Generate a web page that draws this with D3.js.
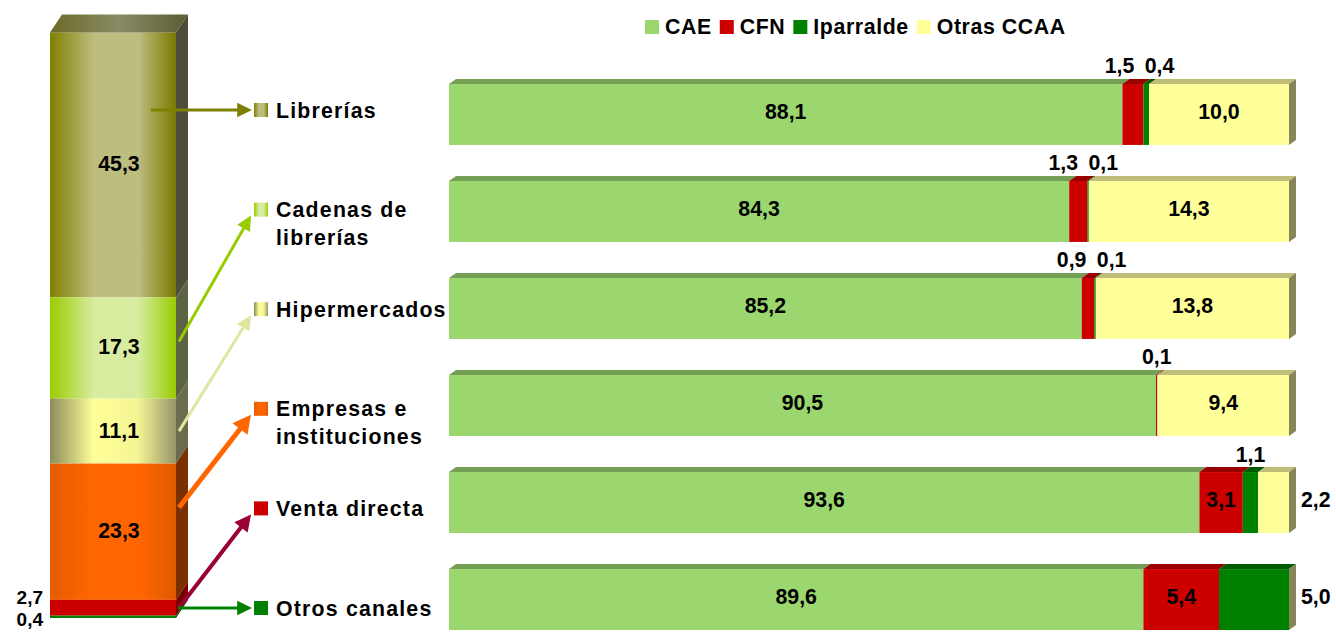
<!DOCTYPE html>
<html>
<head>
<meta charset="utf-8">
<script src="https://cdn.jsdelivr.net/npm/d3@7"></script>
<style>
body { margin: 0; background: #fff; }
text { font-family: Arial, "Liberation Sans", sans-serif; font-weight: bold; font-size: 21.3px; fill: #000; }
</style>
</head>
<body>
<div id="chart"></div>
<script>
// sales channels, share of total (left stacked bar, top to bottom)
var channels = ['Librerías', 'Cadenas de\nlibrerías', 'Hipermercados', 'Empresas e\ninstituciones', 'Venta directa', 'Otros canales'];
var channelShare = [45.3, 17.3, 11.1, 23.3, 2.7, 0.4];

// origin of sales inside each channel (right bars)
var origins = ['CAE', 'CFN', 'Iparralde', 'Otras CCAA'];
var caeValues = [88.1, 84.3, 85.2, 90.5, 93.6, 89.6];
var cfnValues = [1.5, 1.3, 0.9, 0.1, 3.1, 5.4];
var iparValues = [0.4, 0.1, 0.1, 0, 1.1, 5.0];
var otrasValues = [10.0, 14.3, 13.8, 9.4, 2.2, 0];

// styles
var originFront = ['#9bd66e', '#cc0000', '#008000', '#ffff99'];
var originTop = ['#74a055', '#990000', '#005a00', '#bebe78'];
var endSide = '#86865a';
var channelGrad = [
    ['#808000', '#bdbd80', '#bdbd80', '#7a7a00'],
    ['#99cc00', '#d8eca0', '#d8eca0', '#99cc00'],
    ['#8c8c5c', '#ffff99', '#f4f494', '#96966a'],
    ['#e65c00', '#ff6600', '#ff6600', '#e05a00'],
    ['#cc0000', '#cc0000', '#cc0000', '#cc0000'],
    ['#008000', '#008000', '#008000', '#008000']
];
var channelSide = ['#4d4d3a', '#5b6442', '#6b6b4d', '#7a3000', '#7a0000', '#004d00'];
var arrowColor = ['#808000', '#99cc00', '#e0e6a0', '#ff6600', '#990033', '#008000'];
var arrowWidth = [3, 3, 3, 5, 4, 3];

var width = 1336, height = 632;
var fmt = d3.formatLocale({ decimal: ',', thousands: '.', grouping: [3], currency: ['', '€'] }).format('.1f');

var svg = d3.select('#chart').append('svg')
    .attr('width', width)
    .attr('height', height);
var defs = svg.append('defs');

// gradients for the left bar and the channel markers
channelGrad.forEach(function (stops, i) {
    var g = defs.append('linearGradient').attr('id', 'grad' + i)
        .attr('x1', '0%').attr('x2', '100%').attr('y1', '0%').attr('y2', '0%');
    [0, 0.35, 0.7, 1].forEach(function (o, k) {
        g.append('stop').attr('offset', o).attr('stop-color', stops[k]);
    });
});
var topGrad = defs.append('linearGradient').attr('id', 'gradTop')
    .attr('x1', '0%').attr('x2', '100%');
topGrad.append('stop').attr('offset', 0).attr('stop-color', '#6b6b2a');
topGrad.append('stop').attr('offset', 0.5).attr('stop-color', '#8a8a66');
topGrad.append('stop').attr('offset', 1).attr('stop-color', '#5c5c33');

// ---------- left stacked bar ----------
var stackX = 50, stackW = 126, stackDx = 12, stackDy = 18;
var yStack = d3.scaleLinear().domain([0, 100]).range([618, 33]);

// cumulative from the bottom
var segs = [];
var cum = 0;
for (var i = channels.length - 1; i >= 0; i--) {
    segs[i] = { i: i, v: channelShare[i], y0: cum, y1: cum + channelShare[i] };
    cum += channelShare[i];
}

var left = svg.append('g');
var fr = stackX + stackW;

left.selectAll('.side').data(segs).enter().append('polygon')
    .attr('points', function (d) {
        var a = yStack(d.y1), b = yStack(d.y0);
        return [[fr, a], [fr + stackDx, a - stackDy], [fr + stackDx, b - stackDy], [fr, b]].join(' ');
    })
    .attr('fill', function (d) { return channelSide[d.i]; });

left.selectAll('.front').data(segs).enter().append('rect')
    .attr('x', stackX)
    .attr('y', function (d) { return yStack(d.y1); })
    .attr('width', stackW)
    .attr('height', function (d) { return yStack(d.y0) - yStack(d.y1); })
    .attr('fill', function (d) { return 'url(#grad' + d.i + ')'; });

var topY = yStack(segs[0].y1);
left.append('polygon')
    .attr('points', [[stackX, topY], [fr, topY], [fr + stackDx, topY - stackDy], [stackX + stackDx, topY - stackDy]].join(' '))
    .attr('fill', 'url(#gradTop)');

// left bar labels (small shares go to the left of the bar)
var smallSegs = segs.filter(function (d) { return d.v < 5; });
var smallMid = d3.mean(smallSegs, function (d) { return yStack((d.y0 + d.y1) / 2); }) - 3.5;
left.selectAll('.lab').data(segs).enter().append('text')
    .attr('x', function (d) { return d.v < 5 ? 43 : stackX + stackW / 2 + stackDx / 2; })
    .attr('y', function (d) {
        if (d.v >= 5) return yStack((d.y0 + d.y1) / 2) - 1;
        var k = smallSegs.indexOf(d);
        return smallMid + (k - (smallSegs.length - 1) / 2) * 22;
    })
    .attr('dy', '0.35em')
    .attr('text-anchor', function (d) { return d.v < 5 ? 'end' : 'middle'; })
    .style('font-size', function (d) { return d.v < 5 ? '19px' : null; })
    .text(function (d) { return fmt(d.v); });

// ---------- channel markers, names and arrows ----------
var yLab = d3.scalePoint().domain(d3.range(channels.length)).range([110, 608]);
var markX = 254, markS = 14;
var mid = svg.append('g');

channels.forEach(function (name, i) {
    var cy = yLab(i);
    mid.append('rect')
        .attr('x', markX).attr('y', cy - markS / 2)
        .attr('width', markS).attr('height', markS)
        .attr('fill', 'url(#grad' + i + ')');
    var t = mid.append('text')
        .attr('x', 276).attr('y', cy + 7.5)
        .style('letter-spacing', '1.2px');
    name.split('\n').forEach(function (line, k) {
        t.append('tspan').attr('x', 276).attr('dy', k === 0 ? 0 : 27.5).text(line);
    });

    // arrow from the bar segment to the marker
    var s = segs[i];
    var sTop = yStack(s.y1), sBot = yStack(s.y0), sMid = (sTop + sBot) / 2;
    var x1, y1, x2, y2;
    if (cy >= sTop && cy <= sBot) {
        x1 = stackX + stackW * 0.8; y1 = cy; x2 = markX - 2; y2 = cy;
    } else if (Math.abs(sMid - cy) < 15) {
        x1 = fr + 2; y1 = cy; x2 = markX - 2; y2 = cy;
    } else {
        x1 = fr + 3; y1 = sTop + Math.min((sBot - sTop) / 2, 44);
        x2 = markX - 3; y2 = cy + markS / 2 - 1;
    }
    drawArrow(mid, x1, y1, x2, y2, arrowColor[i], arrowWidth[i]);
});

function drawArrow(g, x1, y1, x2, y2, color, w) {
    var ang = Math.atan2(y2 - y1, x2 - x1);
    var L = 10 + w * 1.6, H = 4 + w * 1.1;
    var c = Math.cos(ang), s = Math.sin(ang);
    var bx = x2 - L * c, by = y2 - L * s;
    g.append('line')
        .attr('x1', x1).attr('y1', y1)
        .attr('x2', bx + 2 * c).attr('y2', by + 2 * s)
        .attr('stroke', color).attr('stroke-width', w);
    g.append('polygon')
        .attr('points', [[x2, y2], [bx - H * s, by + H * c], [bx + H * s, by - H * c]].join(' '))
        .attr('fill', color);
}

// ---------- right stacked bars ----------
var table = d3.range(channels.length).map(function (i) {
    return { 'CAE': caeValues[i], 'CFN': cfnValues[i], 'Iparralde': iparValues[i], 'Otras CCAA': otrasValues[i] };
});
var series = d3.stack().keys(origins)(table);

var x = d3.scaleLinear().domain([40, 100]).range([449, 1289]);
var y = d3.scaleBand().domain(d3.range(channels.length))
    .range([84, 630]).paddingInner(0.372).paddingOuter(0);
var dx = 7, dy = 5;
var right = svg.append('g');

series.forEach(function (ser, k) {
    var g = right.append('g');
    ser.forEach(function (d, i) {
        var a = x(Math.max(40, d[0])), b = x(d[1]), yt = y(i);
        if (b - a <= 0) return;
        g.append('polygon')
            .attr('points', [[a, yt], [b, yt], [b + dx, yt - dy], [a + dx, yt - dy]].join(' '))
            .attr('fill', originTop[k]);
        g.append('rect')
            .attr('x', a).attr('y', yt)
            .attr('width', b - a).attr('height', y.bandwidth())
            .attr('fill', originFront[k]);
    });
});

// right end faces
right.selectAll('.end').data(table).enter().append('polygon')
    .attr('points', function (d, i) {
        var b = x(100), yt = y(i), yb = yt + y.bandwidth();
        return [[b, yt], [b + dx, yt - dy], [b + dx, yb - dy], [b, yb]].join(' ');
    })
    .attr('fill', endSide);

// value labels
table.forEach(function (row, i) {
    var cells = series.map(function (ser, k) {
        return { k: k, v: row[origins[k]], a: x(Math.max(40, ser[i][0])), b: x(ser[i][1]) };
    }).filter(function (c) { return c.v > 0; });
    var last = cells[cells.length - 1];
    var above = [];
    var cy = y(i) + y.bandwidth() / 2 - 3;
    cells.forEach(function (c) {
        var small = c.v < 2.5 || origins[c.k] === 'Iparralde';
        if (!small) {
            right.append('text').attr('x', (c.a + c.b) / 2).attr('y', cy)
                .attr('dy', '0.35em').attr('text-anchor', 'middle').text(fmt(c.v));
        } else if (c === last) {
            right.append('text').attr('x', x(100) + dx + 5).attr('y', cy)
                .attr('dy', '0.35em').attr('text-anchor', 'start').text(fmt(c.v));
        } else {
            above.push(c);
        }
    });
    var midX = d3.mean(above, function (c) { return (c.a + c.b) / 2; });
    above.forEach(function (c, j) {
        right.append('text')
            .attr('x', midX + (j - (above.length - 1) / 2) * 40)
            .attr('y', y(i) - 18)
            .attr('dy', '0.35em').attr('text-anchor', 'middle').text(fmt(c.v));
    });
});

// ---------- legend ----------
var legend = svg.append('g');
var lx = 645;
origins.forEach(function (name, k) {
    legend.append('rect').attr('x', lx).attr('y', 20).attr('width', 14).attr('height', 14)
        .attr('fill', originFront[k]);
    var t = legend.append('text').attr('x', lx + 20).attr('y', 33.5)
        .style('letter-spacing', '0.6px').text(name);
    lx += 20 + t.node().getComputedTextLength() + 8;
});
</script>
</body>
</html>
